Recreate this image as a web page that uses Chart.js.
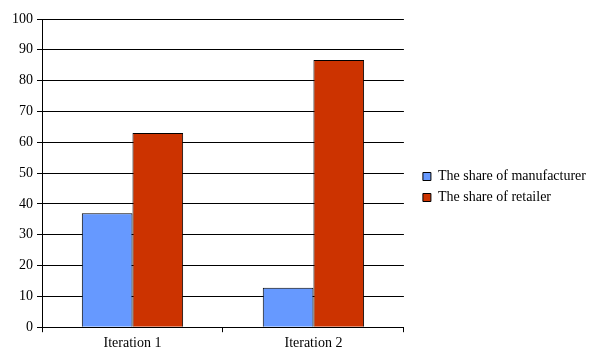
<!DOCTYPE html>
<html>
<head>
<meta charset="utf-8">
<script src="https://cdn.jsdelivr.net/npm/chart.js@4"></script>
<style>
  body { margin: 0; background: #fff; }
  #wrap { width: 590px; height: 355px; }
</style>
</head>
<body>
<div id="wrap"><canvas id="bars"></canvas></div>
<script>
const categories = ['Iteration 1', 'Iteration 2'];
const manufacturerShare = [37, 12.8];
const retailerShare = [63, 86.7];

Chart.defaults.font.family = '"Liberation Serif", "Times New Roman", serif';
Chart.defaults.font.size = 14;
Chart.defaults.color = '#000';

function draw() {
  const ctx = document.getElementById('bars');

  let bars = new Chart(ctx, {
    type: 'bar',
    data: {
      labels: categories,
      datasets: [{
        label: 'The share of manufacturer',
        data: manufacturerShare,
        backgroundColor: '#6699ff',
        borderColor: '#000',
        borderWidth: 1,
        borderSkipped: 'bottom'
      }, {
        label: 'The share of retailer',
        data: retailerShare,
        backgroundColor: '#cc3300',
        borderColor: '#000',
        borderWidth: 1,
        borderSkipped: 'bottom'
      }]
    },
    options: {
      responsive: true,
      maintainAspectRatio: false,
      animation: false,
      layout: { padding: { top: 19, left: 8, right: -6, bottom: 0 } },
      datasets: {
        bar: { categoryPercentage: 0.56, barPercentage: 1 }
      },
      scales: {
        x: {
          grid: { drawOnChartArea: false, drawTicks: true, tickLength: 5, color: '#000' },
          border: { color: '#000' },
          ticks: { padding: 3 }
        },
        y: {
          min: 0,
          max: 100,
          ticks: { stepSize: 10, padding: 4 },
          grid: { color: '#000', tickLength: 5 },
          border: { color: '#000' }
        },
        // empty right axis, only keeps a gap between plot and legend
        gap: {
          position: 'right',
          display: true,
          grid: { display: false },
          border: { display: false },
          ticks: { display: false },
          afterFit(s) { s.width = 12; }
        }
      },
      plugins: {
        legend: {
          position: 'right',
          maxWidth: 220,
          labels: { boxWidth: 8, boxHeight: 8, padding: 7, useBorderRadius: false }
        },
        tooltip: { enabled: false }
      }
    }
  });
}

document.fonts.load('14px "Liberation Serif"').then(draw, draw);
</script>
</body>
</html>
